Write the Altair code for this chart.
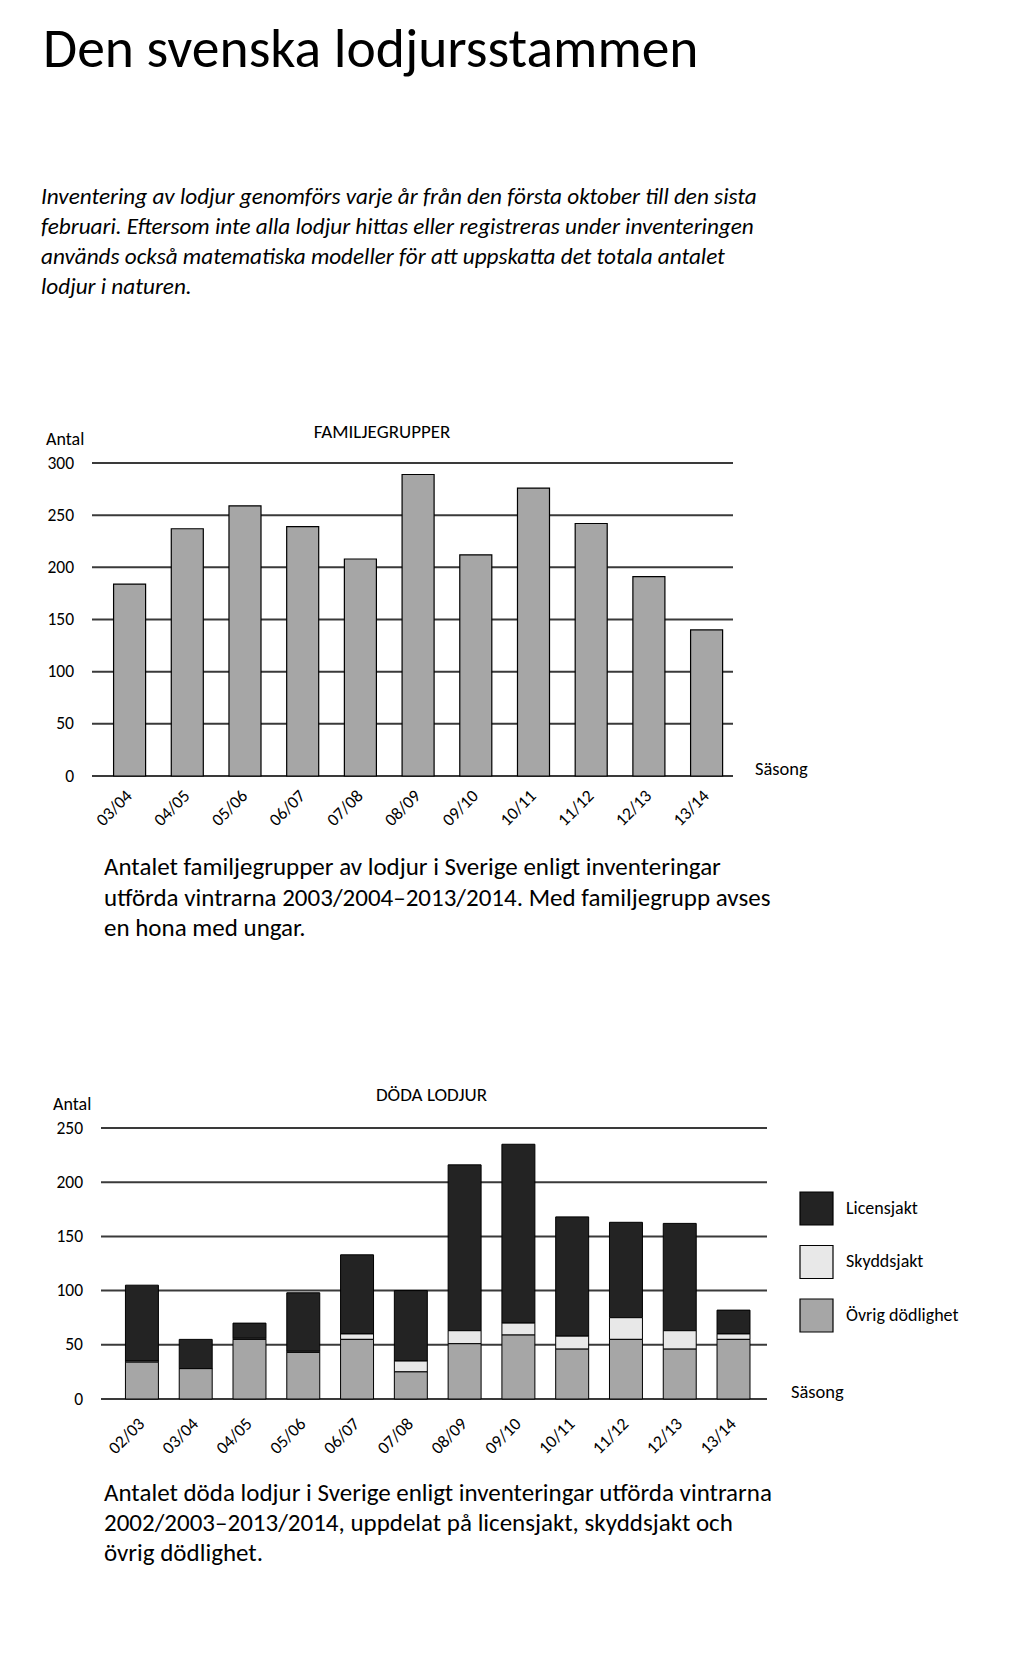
import altair as alt
import pandas as pd

FONT = "Calibri, Carlito, Lato, sans-serif"

# ---- data: chart 1 (familjegrupper) ----
seasons1 = ["03/04", "04/05", "05/06", "06/07", "07/08", "08/09",
            "09/10", "10/11", "11/12", "12/13", "13/14"]
familjegrupper = [184, 237, 259, 239, 208, 289, 212, 276, 242, 191, 140]
ticks1 = [0, 50, 100, 150, 200, 250, 300]

# ---- data: chart 2 (döda lodjur) ----
seasons2 = ["02/03", "03/04", "04/05", "05/06", "06/07", "07/08",
            "08/09", "09/10", "10/11", "11/12", "12/13", "13/14"]
licensjakt = [70, 27, 14, 54, 73, 65, 153, 165, 110, 88, 99, 22]
skyddsjakt = [1, 0, 1, 1, 5, 10, 12, 11, 12, 20, 17, 5]
ovrig = [34, 28, 55, 43, 55, 25, 51, 59, 46, 55, 46, 55]
ticks2 = [0, 50, 100, 150, 200, 250]

categories = ["Licensjakt", "Skyddsjakt", "Övrig dödlighet"]
cat_colors = ["#232323", "#e8e8e8", "#a6a6a6"]
stack_rank = {"Övrig dödlighet": 0, "Skyddsjakt": 1, "Licensjakt": 2}

title_text = "Den svenska lodjursstammen"
intro_lines = [
    "Inventering av lodjur genomförs varje år från den första oktober till den sista",
    "februari. Eftersom inte alla lodjur hittas eller registreras under inventeringen",
    "används också matematiska modeller för att uppskatta det totala antalet",
    "lodjur i naturen.",
]
caption1 = [
    "Antalet familjegrupper av lodjur i Sverige enligt inventeringar",
    "utförda vintrarna 2003/2004–2013/2014. Med familjegrupp avses",
    "en hona med ungar.",
]
caption2 = [
    "Antalet döda lodjur i Sverige enligt inventeringar utförda vintrarna",
    "2002/2003–2013/2014, uppdelat på licensjakt, skyddsjakt och",
    "övrig dödlighet.",
]

df1 = pd.DataFrame({"Säsong": seasons1, "Antal": familjegrupper})
rows = []
for i, s in enumerate(seasons2):
    for cat, vals in (("Licensjakt", licensjakt), ("Skyddsjakt", skyddsjakt),
                      ("Övrig dödlighet", ovrig)):
        rows.append({"Säsong": s, "Orsak": cat, "Antal": vals[i], "rank": stack_rank[cat]})
df2 = pd.DataFrame(rows)

GRID = "#3a3a3a"
W1, H1 = 641, 313
W2, H2 = 675, 271
TICKFS = 17.5


def txt(lines, x, y, size, align="left", style="normal", lh=30):
    return alt.Chart(alt.Data(values=[{}])).mark_text(
        text=lines, align=align, baseline="alphabetic", fontSize=size,
        font=FONT, fontStyle=style, color="#000000", lineHeight=lh,
    ).encode(x=alt.value(x), y=alt.value(y))


def yaxis(vals, pad):
    return alt.Axis(title=None, values=vals, grid=False, domain=False, ticks=False,
                    labelPadding=pad, labelFontSize=TICKFS, labelFont=FONT,
                    labelColor="#000000")


# ---------------- chart 1 ----------------
yscale1 = alt.Scale(domain=[0, 300], nice=False)
ax1 = yaxis(ticks1, 18.5)

grid1 = alt.Chart(pd.DataFrame({"v": ticks1})).mark_rule(
    color=GRID, strokeWidth=2
).encode(
    y=alt.Y("v:Q", scale=yscale1, axis=ax1),
    x=alt.value(0), x2=alt.value(W1),
)

bars1 = alt.Chart(df1).mark_bar(
    color="#a6a6a6", stroke="#000000", strokeWidth=1.2
).encode(
    x=alt.X("Säsong:N", sort=seasons1,
            scale=alt.Scale(paddingInner=0.445, paddingOuter=0.277, align=0.675),
            axis=alt.Axis(title=None, domain=False, ticks=False, labelAngle=315,
                          labelAlign="right", labelBaseline="middle", labelPadding=17,
                          labelFontSize=TICKFS, labelFont=FONT, labelColor="#000000")),
    y=alt.Y("Antal:Q", scale=yscale1, axis=ax1),
)

chart1 = alt.layer(
    grid1, bars1,
    txt([title_text], -49, -396, 55.5),
    txt(intro_lines, -51, -259, 23.2, style="italic", lh=30),
    txt(["FAMILJEGRUPPER"], 290, -25.5, 19, align="center"),
    txt(["Antal"], -46, -18, 18),
    txt(["Säsong"], 663, 312, 18.5),
    txt(caption1, 12, 412, 25, lh=30.5),
).properties(width=W1, height=H1)

# ---------------- chart 2 ----------------
yscale2 = alt.Scale(domain=[0, 250], nice=False)
ax2 = yaxis(ticks2, 9.5)

grid2 = alt.Chart(pd.DataFrame({"v": ticks2})).mark_rule(
    color=GRID, strokeWidth=2
).encode(
    y=alt.Y("v:Q", scale=yscale2, axis=ax2),
    x=alt.value(9), x2=alt.value(W2),
)

bars2 = alt.Chart(df2).mark_bar(stroke="#000000", strokeWidth=1).encode(
    x=alt.X("Säsong:N", sort=seasons2,
            scale=alt.Scale(paddingInner=0.387, paddingOuter=0.469, align=0.663),
            axis=alt.Axis(title=None, domain=False, ticks=False, labelAngle=315,
                          labelAlign="right", labelBaseline="middle", labelPadding=22,
                          labelFontSize=TICKFS, labelFont=FONT, labelColor="#000000")),
    y=alt.Y("Antal:Q", stack="zero", scale=yscale2, axis=ax2),
    color=alt.Color("Orsak:N", sort=categories,
                    scale=alt.Scale(domain=categories, range=cat_colors),
                    legend=alt.Legend(title=None, orient="none", legendX=707, legendY=728,
                                      symbolType="square", symbolSize=1089,
                                      symbolStrokeColor="#000000", symbolStrokeWidth=1.2,
                                      symbolOpacity=1, labelFontSize=18, labelFont=FONT,
                                      labelColor="#000000", labelOffset=12, rowPadding=14.5,
                                      padding=0)),
    order=alt.Order("rank:Q", sort="ascending"),
)

chart2 = alt.layer(
    grid2, bars2,
    txt(["DÖDA LODJUR"], 339.5, -27.3, 19, align="center"),
    txt(["Antal"], -39, -18, 18),
    txt(["Säsong"], 699, 270, 18.5),
    txt(caption2, 12, 373, 25, lh=30),
).properties(width=W2, height=H2)

chart = alt.vconcat(chart1, chart2, spacing=352, bounds="flush").properties(
    autosize=alt.AutoSizeParams(type="none"),
    padding={"left": 84, "top": 455, "right": 936, "bottom": 1195},
).configure_view(stroke=None)

chart.save("out.html", embed_options={"renderer": "svg", "actions": False})
